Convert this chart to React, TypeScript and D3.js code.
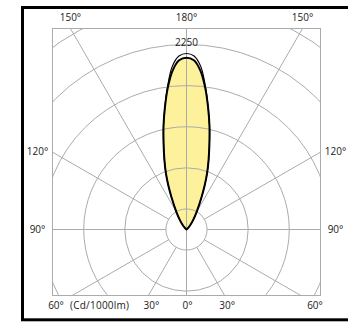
import React from "react";
import * as d3 from "d3";

// ---- data ----
const gammaDeg = [0, 2.5, 5, 7.5, 10, 12.5, 15, 17.5, 20, 22.5, 25, 30, 35, 40, 45, 50, 55];
const intensityC0 = [2090, 2060, 1940, 1740, 1510, 1290, 1075, 895, 735, 575, 430, 245, 140, 75, 32, 10, 0];
const intensityC90 = [2140, 2112, 1990, 1760, 1515, 1295, 1080, 899, 737, 577, 431, 246, 140, 75, 32, 10, 0];
const ringValues = [250, 750, 1250, 1750, 2250, 2750];
const spokeAngles = [30, 60, 90, 120, 150];
const topLabels = ["150°", "180°", "150°"];
const sideLabels = ["120°", "90°"];
const bottomLabels = ["60°", "(Cd/1000lm)", "30°", "0°", "30°", "60°"];
const maxLabel = "2250";
const maxLabelValue = 2250;

// ---- layout ----
const W = 348;
const H = 322;
const plot = { left: 52.5, top: 28.5, right: 320.5, bottom: 295.5 };
const cx = 186.5;
const cy = 229.5;
const gridColor = "#ababab";
const textColor = "#1a1a1a";
const fillColor = "#fdf19b";
const font = "'Open Sans', 'Noto Sans', sans-serif";

export default function App() {
  const r = d3.scaleLinear().domain([0, 2250]).range([0, 185]);
  const rad = (deg: number) => (deg * Math.PI) / 180;

  const buildPts = (vals: number[]): [number, number][] => {
    const pts: [number, number][] = [];
    for (let i = gammaDeg.length - 1; i >= 1; i--) pts.push([-rad(gammaDeg[i]), r(vals[i])]);
    for (let i = 0; i < gammaDeg.length; i++) pts.push([rad(gammaDeg[i]), r(vals[i])]);
    return pts;
  };
  const radial = d3
    .lineRadial<[number, number]>()
    .angle((d) => d[0])
    .radius((d) => d[1])
    .curve(d3.curveCatmullRomClosed.alpha(0.5));
  const pathC0 = radial(buildPts(intensityC0)) || "";
  const pathC90 = radial(buildPts(intensityC90)) || "";

  // spokes: chart angle phi measured from downward vertical
  const spokes: { x1: number; y1: number; x2: number; y2: number }[] = [];
  spokeAngles.forEach((phi) => {
    [-1, 1].forEach((s) => {
      const dx = s * Math.sin(rad(phi));
      const dy = Math.cos(rad(phi));
      const r0 = r(ringValues[0]);
      spokes.push({ x1: cx + dx * r0, y1: cy + dy * r0, x2: cx + dx * 600, y2: cy + dy * 600 });
    });
  });

  const t30 = Math.tan(rad(30));
  const topY = 21;
  const topX = [cx - (cy - plot.top) * t30, cx, cx + (cy - plot.top) * t30];
  const sideY = [cy - (cx - plot.left) * t30 + 2.5, cy + 3.5];
  const bottomY = 309;
  const bottomX = [56, 99.5, cx - (plot.bottom - cy) * t30 + 3, cx + 1, cx + (plot.bottom - cy) * t30 + 2.5, 315];

  return (
    <svg
      width={W}
      height={H}
      style={{ position: "absolute", left: 0, top: 0, background: "#fff" }}
      fontFamily={font}
    >
      <defs>
        <clipPath id="plotClip">
          <rect x={plot.left} y={plot.top} width={plot.right - plot.left} height={plot.bottom - plot.top} />
        </clipPath>
      </defs>
      <rect x={0} y={0} width={W} height={H} fill="#fff" />
      {/* outer frame */}
      <rect x={22.5} y={7.5} width={420} height={312.3} fill="none" stroke="#000" strokeWidth={3} />

      {/* beam fill */}
      <path d={pathC0} transform={`translate(${cx},${cy})`} fill={fillColor} stroke="none" />

      {/* grid */}
      <g clipPath="url(#plotClip)" stroke={gridColor} strokeWidth={1} fill="none">
        {ringValues.map((v) => (
          <circle key={v} cx={cx} cy={cy} r={r(v)} />
        ))}
        {spokes.map((s, i) => (
          <line key={i} x1={s.x1} y1={s.y1} x2={s.x2} y2={s.y2} />
        ))}
        <line x1={cx} y1={plot.top} x2={cx} y2={plot.bottom} />
      </g>
      <rect
        x={plot.left}
        y={plot.top}
        width={plot.right - plot.left}
        height={plot.bottom - plot.top}
        fill="none"
        stroke={gridColor}
        strokeWidth={1}
      />

      {/* curves */}
      <path d={pathC90} transform={`translate(${cx},${cy})`} fill="none" stroke="#000" strokeWidth={1.1} />
      <path d={pathC0} transform={`translate(${cx},${cy})`} fill="none" stroke="#000" strokeWidth={2} strokeLinejoin="round" />

      {/* labels */}
      <g fontSize={10} fill={textColor} textAnchor="middle">
        {topLabels.map((t, i) => (
          <text key={"t" + i} x={topX[i]} y={topY}>
            {t}
          </text>
        ))}
        {sideLabels.map((t, i) => (
          <React.Fragment key={"s" + i}>
            <text x={37.5} y={sideY[i]}>
              {t}
            </text>
            <text x={335.5} y={sideY[i]}>
              {t}
            </text>
          </React.Fragment>
        ))}
        {bottomLabels.map((t, i) =>
          i === 1 ? (
            <text key={"b" + i} x={bottomX[i]} y={bottomY} textLength={59} lengthAdjust="spacing">
              {t}
            </text>
          ) : (
            <text key={"b" + i} x={bottomX[i]} y={bottomY}>
              {t}
            </text>
          )
        )}
        <text x={cx} y={cy - r(maxLabelValue) + 1}>
          {maxLabel}
        </text>
      </g>
    </svg>
  );
}
